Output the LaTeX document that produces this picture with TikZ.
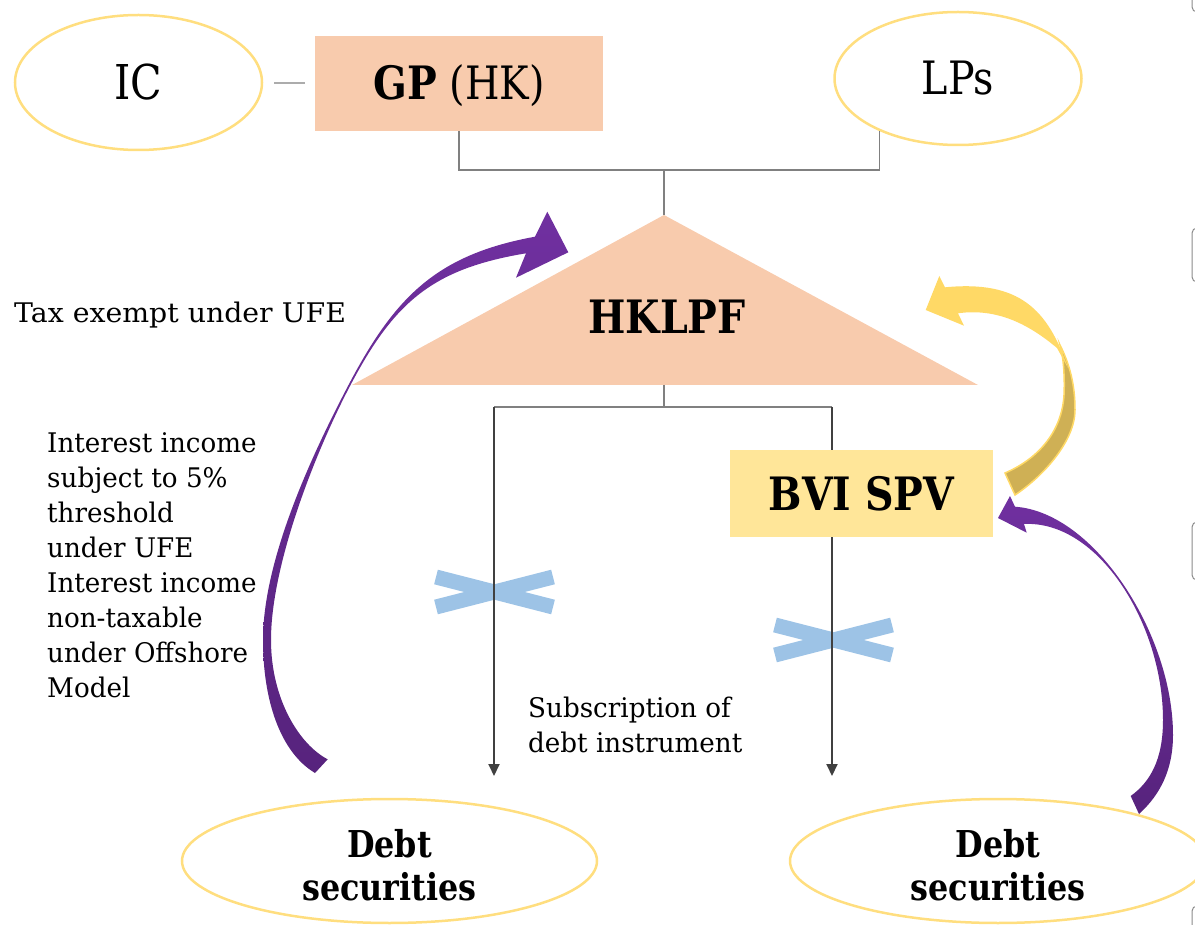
\documentclass[tikz,border=0pt]{standalone}
\usepackage{fontspec}
\setmainfont{DejaVu Serif}
\newfontfamily\headfont{DejaVu Serif}[FakeStretch=0.86]
\newfontfamily\notefont{DejaVu Serif}[FakeStretch=0.97]
\newfontfamily\widenotefont{DejaVu Serif}[FakeStretch=1.05]
\usetikzlibrary{shapes.geometric,arrows.meta}
\definecolor{peach}{HTML}{F8CBAD}
\definecolor{spvfill}{HTML}{FFE699}
\definecolor{ovalline}{HTML}{FFDE7F}
\definecolor{linegray}{HTML}{808080}
\definecolor{linedark}{HTML}{404040}
\definecolor{crossblue}{HTML}{9DC3E6}
\definecolor{purpA}{HTML}{7030A0}
\definecolor{purpB}{HTML}{57237D}
\definecolor{goldlight}{HTML}{FFD966}
\definecolor{goldback}{HTML}{CFB055}
\definecolor{edgegray}{HTML}{8A8A8A}
\begin{document}
\begin{tikzpicture}[x=1pt,y=-1pt,
  oval/.style={ellipse, draw=ovalline, line width=2.5pt, inner sep=0pt},
  boxnode/.style={rectangle, inner sep=0pt, text depth=0pt},
  conn/.style={draw=linegray, line width=1.3pt},
  flow/.style={draw=linedark, line width=2pt, -{Triangle[length=12pt,width=11pt]}},
  xbar/.style={draw=crossblue, line width=15pt},
  biglabel/.style={font=\headfont\fontsize{46}{50}\selectfont},
  boldlabel/.style={font=\headfont\bfseries\fontsize{46}{50}\selectfont},
  smalltext/.style={font=\notefont\fontsize{27}{35}\selectfont, inner sep=0pt, align=left, anchor=base west},
  debtlabel/.style={font=\headfont\bfseries\fontsize{37}{43}\selectfont, align=center, anchor=base, inner sep=0pt},
  edgebox/.style={draw=edgegray, line width=1pt, rounded corners=5pt}
]
\useasboundingbox (0,0) rectangle (1195,925);

% crossed-out links (under the flow lines)
\draw[xbar] (436,577) -- (553,607);
\draw[xbar] (436,607) -- (553,577);
\draw[xbar] (775,625) -- (892,655);
\draw[xbar] (775,655) -- (892,625);

% fund triangle
\coordinate (apex) at (664,215);
\coordinate (basemid) at (664,385);
\fill[peach] (apex) -- (978,385) -- (352,385) -- cycle;
\node[boldlabel, anchor=base] (fund) at (667,334) {HKLPF};

% top row
\node[oval, minimum width=247pt, minimum height=135pt, font=\headfont\fontsize{48}{50}\selectfont, text height=35pt, text depth=0pt] (ic) at (138.5,82.5) {IC};
\node[boxnode, fill=peach, minimum width=288pt, minimum height=95pt, biglabel, text height=33pt] (gp) at (459,83.5) {\textbf{GP} (HK)};
\node[oval, minimum width=247pt, minimum height=133pt, biglabel, text height=33pt, text depth=0pt] (lps) at (958,78.5) {LPs};

\draw[conn, shorten <=11pt, shorten >=10pt] (ic) -- (gp);
\coordinate (bus1) at (664,170);
\draw[conn] (gp.south) |- (bus1) -| (lps.214);
\draw[conn] (bus1) -- (apex);

% investment flows
\coordinate (bus2) at (664,407);
\coordinate (bl) at (494,407);
\coordinate (br) at (832,407);
\coordinate (dl) at (494,776);
\coordinate (dr) at (832,776);
\draw[conn] (basemid) -- (bus2);
\draw[conn] (bl) -- (br);
\draw[flow] (bl) -- (dl);
\draw[flow] (br) -- (dr);

\node[boxnode, fill=spvfill, minimum width=263pt, minimum height=87pt, boldlabel, text height=34pt] (spv) at (861.5,493.5) {BVI SPV};

% debt securities
\node[oval, minimum width=415pt, minimum height=124pt] (debtl) at (389.5,861) {};
\node[oval, minimum width=416pt, minimum height=124pt] (debtr) at (998,861) {};
\node[debtlabel] (debtltext) at (389.5,900) {Debt\\securities};
\node[debtlabel] (debtrtext) at (998,900) {Debt\\securities};

% texts
\node[smalltext, font=\widenotefont\fontsize{27}{35}\selectfont] (tax) at (14,323) {Tax exempt under UFE};
\node[smalltext] (notes) at (47,697) {Interest income\\subject to 5\%\\threshold\\under UFE\\Interest income\\non-taxable\\under Offshore\\Model};
\node[smalltext] (subs) at (528,752) {Subscription of\\debt instrument};

% curved purple arrow on the left
\shade[top color=purpA, bottom color=purpB]
  (315,773) .. controls (280,752) and (263,700) .. (263,640)
  .. controls (263,560) and (311.3,455.8) .. (348.5,385)
  .. controls (395,296.5) and (436.7,254.7) .. (535,236.7)
  -- (547.3,211.7) -- (568.3,252.3) -- (516,277.7) -- (526,253.3)
  .. controls (432.3,268.9) and (394.2,301.9) .. (350,386)
  .. controls (315.1,452.4) and (271,565) .. (271,640)
  .. controls (271,700) and (300,745) .. (327.7,759.3)
  -- cycle;

% curved purple arrow on the right
\shade[top color=purpA, bottom color=purpB]
  (1139,814) .. controls (1160,795) and (1173,770) .. (1173,735)
  .. controls (1173,635) and (1095,512.3) .. (1015,506.7)
  -- (1010,496) -- (998,518) -- (1026.7,532.7) -- (1024,524)
  .. controls (1099,520.25) and (1163,625) .. (1163,720)
  .. controls (1163,760) and (1150,782) .. (1130.7,796)
  -- cycle;

% twisted gold arrow from the SPV back to the fund
\filldraw[fill=goldback, draw=goldlight, line width=1.5pt]
  (1060,345) .. controls (1070,365) and (1075,385) .. (1075,410)
  .. controls (1075,440) and (1045,475) .. (1015,495)
  -- (1005,473)
  .. controls (1040,458) and (1062,430) .. (1064,395)
  .. controls (1065,375) and (1063,355) .. (1060,345)
  -- cycle;
\fill[goldlight]
  (945,287.3) .. controls (1020,280) and (1048,310) .. (1068,368)
  -- (1057,348) .. controls (1030,325.3) and (998,307.7) .. (958,313.3)
  -- (964,325.7) -- (925.7,310) -- (939.3,276) -- cycle;

% frames cut by the right edge
\draw[edgebox] (1192,-20) rectangle (1220,12);
\draw[edgebox] (1192,228) rectangle (1220,282);
\draw[edgebox] (1192,522) rectangle (1220,580);
\draw[edgebox] (1192,906) rectangle (1220,950);
\end{tikzpicture}
\end{document}
